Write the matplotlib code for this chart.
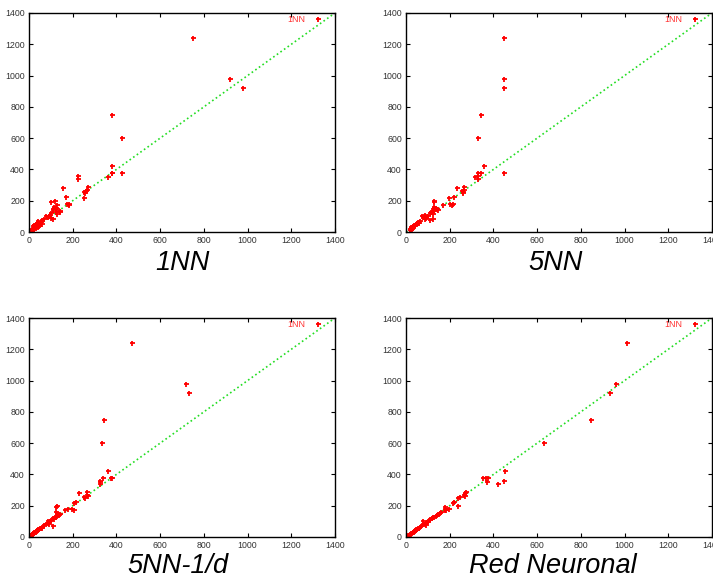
import matplotlib
matplotlib.use('Agg')
import matplotlib.pyplot as plt
import numpy as np

plt.rcParams['font.family'] = ['Liberation Sans', 'DejaVu Sans']

# valores reales (eje y) compartidos por los cuatro modelos
real = [1240, 980, 920, 750, 600, 425, 380, 380, 380, 360, 350, 340, 290, 280, 270, 265,
        255, 250, 225, 220, 200, 190, 180, 180, 175, 170,
        160, 155, 150, 145, 140, 135, 130, 125, 120, 115, 110, 105, 100, 95, 90, 85, 80,
        75, 70, 65, 60, 58, 55, 50, 48, 45, 42, 40, 38, 35, 32, 30, 28, 25, 22, 20, 18,
        15, 12, 10]

# predicciones (eje x) de cada modelo
pred_1nn = [750, 920, 980, 380, 425, 380, 425, 380, 380, 225, 360, 225, 270, 155, 265, 260,
            250, 255, 170, 250, 120, 100, 185, 175, 185, 130,
            115, 125, 110, 130, 110, 140, 125, 140, 100, 130, 95, 90, 80, 85, 100, 70, 110,
            60, 40, 55, 35, 50, 45, 30, 60, 40, 25, 45, 20, 30, 40, 25, 20, 30, 18, 22, 25,
            12, 15, 8]
pred_5nn = [450, 450, 450, 345, 330, 355, 450, 330, 345, 330, 315, 330, 265, 235, 265, 255,
            260, 260, 220, 195, 130, 130, 200, 215, 210, 170,
            130, 135, 140, 125, 145, 130, 120, 115, 110, 125, 85, 100, 75, 80, 90, 85, 125,
            110, 65, 55, 60, 50, 55, 45, 50, 40, 35, 38, 30, 28, 32, 25, 30, 22, 25, 20, 28,
            18, 25, 20]
pred_5nn_d = [470, 720, 730, 345, 333, 360, 340, 375, 380, 325, 325, 325, 265, 230, 265, 270,
              250, 255, 215, 205, 130, 125, 180, 195, 205, 165,
              125, 130, 140, 130, 135, 130, 125, 120, 110, 115, 100, 95, 85, 90, 85, 80, 90,
              70, 110, 60, 55, 58, 50, 45, 42, 40, 35, 38, 32, 30, 28, 25, 22, 20, 18, 18, 16,
              13, 12, 10]
pred_rn = [1010, 960, 935, 845, 630, 455, 350, 365, 375, 450, 370, 420, 275, 270, 265, 268,
           245, 240, 220, 215, 240, 180, 180, 195, 185, 180,
           160, 155, 150, 145, 140, 135, 128, 125, 120, 112, 110, 100, 80, 95, 90, 85, 80,
           90, 70, 65, 60, 58, 55, 50, 48, 45, 42, 40, 38, 35, 32, 30, 28, 25, 22, 20, 18,
           15, 12, 10]

titles = ['1NN', '5NN', '5NN-1/d', 'Red Neuronal']
preds = [pred_1nn, pred_5nn, pred_5nn_d, pred_rn]

W, H = 713, 580
fig = plt.figure(figsize=(W / 100, H / 100), dpi=100)

# posiciones en pixeles: (izq, arriba)
boxes = [(29, 13), (406, 13), (29, 318), (406, 318)]
aw, ah = 306, 219
title_pos = [(182, 263), (556, 263), (178, 566), (553, 566)]

for i in range(4):
    x0, y0 = boxes[i]
    ax = fig.add_axes([x0 / W, 1 - (y0 + ah) / H, aw / W, ah / H])
    ax.plot([0, 1400], [0, 1400], linestyle=':', color='#22dd22', lw=1.2, zorder=1)
    ax.plot(preds[i], real, '+', color='red', ms=3.6, mew=1.3, zorder=2)
    ax.plot([1320], [1360], '+', color='red', ms=3.6, mew=1.3)
    ax.text(1265, 1360, '1NN', color='#ff3333', fontsize=6.5, ha='right', va='center')
    ax.set_xlim(0, 1400)
    ax.set_ylim(0, 1400)
    ax.set_xticks(np.arange(0, 1401, 200))
    ax.set_yticks(np.arange(0, 1401, 200))
    ax.tick_params(direction='in', top=True, right=True, length=3, width=0.8,
                   labelsize=6.3, labelcolor='#333333', pad=3)
    for s in ax.spines.values():
        s.set_linewidth(1.0)
    tx, ty = title_pos[i]
    fig.text(tx / W, 1 - ty / H, titles[i], fontsize=19.5, style='italic',
             ha='center', va='center')

plt.savefig('out.png', dpi=100)
plt.close()
